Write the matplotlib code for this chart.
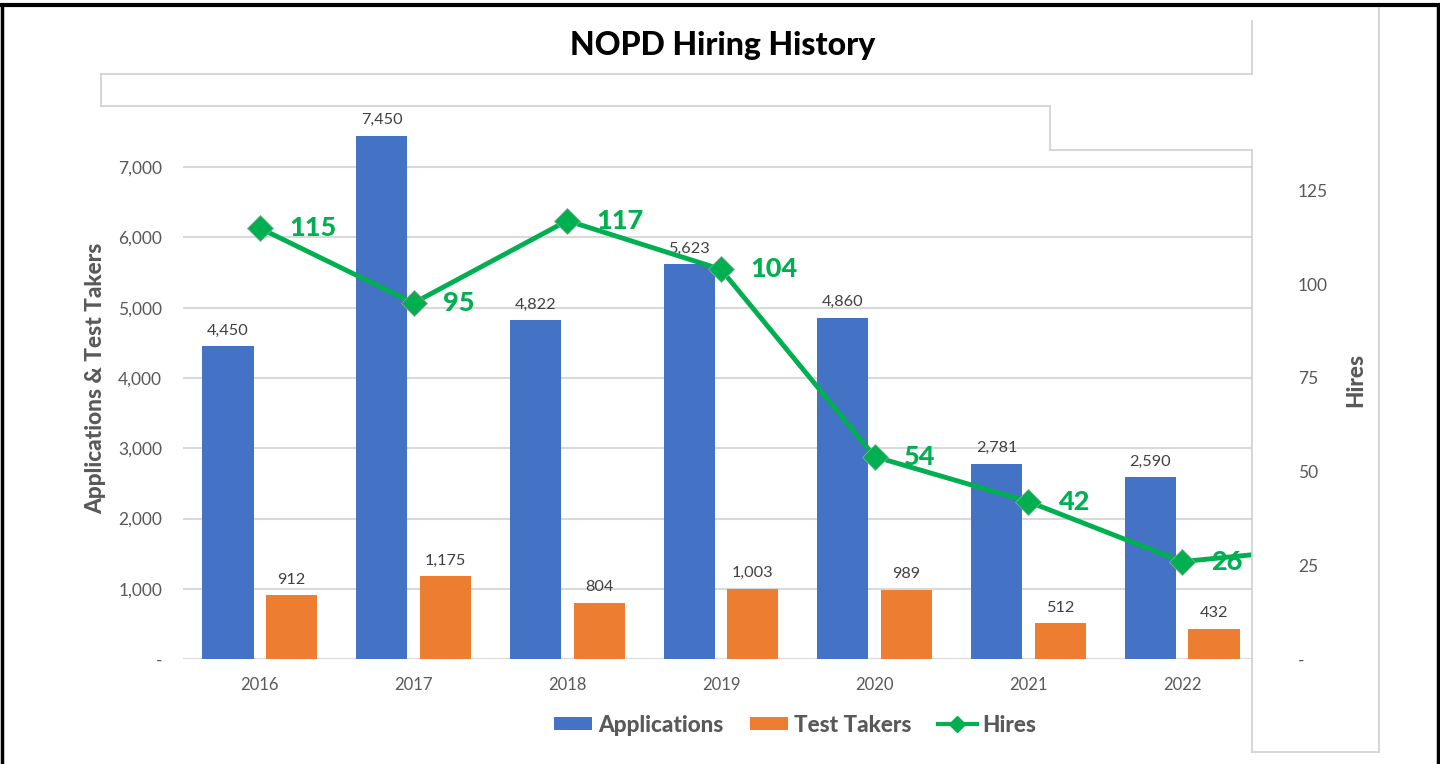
import numpy as np
import matplotlib
matplotlib.use("Agg")
import matplotlib.pyplot as plt
from matplotlib.patches import Patch, Polygon, Rectangle
from matplotlib.lines import Line2D

plt.rcParams['font.family'] = ['Lato', 'DejaVu Sans']

# data
years = ['2016', '2017', '2018', '2019', '2020', '2021', '2022']
applications = [4450, 7450, 4822, 5623, 4860, 2781, 2590]
test_takers = [912, 1175, 804, 1003, 989, 512, 432]
hires = [115, 95, 117, 104, 54, 42, 26]
hires_next = 30  # next point, hidden behind the panel on the right

BLUE = '#4472C4'
ORANGE = '#ED7D31'
GREEN = '#00B050'
GREY = '#595959'
BOLD = 'black'

W, H = 1440, 764
fig = plt.figure(figsize=(W / 100, H / 100), dpi=100)


def fx(x):
    return x / W


def fy(y):
    return 1 - y / H


# plot area in pixels: x 183..1259, y 97..659
ax = fig.add_axes([fx(183), fy(659), (1259 - 183) / W, (659 - 97) / H])
x = np.arange(len(years))
bw = 0.333
off = 0.207
b1 = ax.bar(x - off, applications, bw, color=BLUE, zorder=2)
b2 = ax.bar(x + off, test_takers, bw, color=ORANGE, zorder=2)
for bars, vals in [(b1, applications), (b2, test_takers)]:
    for r, v in zip(bars, vals):
        ax.annotate(f'{v:,}', (r.get_x() + r.get_width() / 2, v),
                    xytext=(0, 6), textcoords='offset points',
                    ha='center', va='bottom', fontsize=11.7, color='#404040')

ax.set_xlim(-0.5, 6.5)
ax.set_ylim(0, 8000)
ax.set_yticks(range(0, 8001, 1000))
ax.set_yticklabels(['-'] + [f'{v:,}' for v in range(1000, 8001, 1000)])
ax.set_xticks(x)
ax.set_xticklabels(years)
ax.tick_params(axis='both', length=0, labelcolor=GREY)
ax.tick_params(axis='y', pad=15, labelsize=12.5)
ax.tick_params(axis='x', pad=13, labelsize=12)
ax.grid(axis='y', color='#d9d9d9', linewidth=1.5, zorder=0)
ax.set_axisbelow(True)
for s in ax.spines.values():
    s.set_visible(False)

# hires on the secondary axis
ax2 = ax.twinx()
ax2.plot(np.arange(len(hires) + 1), hires + [hires_next], color=GREEN,
         linewidth=3.5, marker='D', markersize=13, markeredgecolor='#9e9e9e',
         markeredgewidth=0.6, markevery=list(range(len(hires))), zorder=3)
for i, v in enumerate(hires):
    ax2.annotate(str(v), (i, v), xytext=(21, 0), textcoords='offset points',
                 ha='left', va='center', fontsize=19.5, fontweight=BOLD,
                 color=GREEN, zorder=3)
ax2.set_ylim(0, 150)
ax2.set_yticks(range(0, 126, 25))
ax2.set_yticklabels(['-'] + [str(v) for v in range(25, 126, 25)])
ax2.tick_params(axis='y', length=0, labelsize=12.5, labelcolor=GREY, pad=28)
for s in ax2.spines.values():
    s.set_visible(False)

# white overlays from the screenshot
box = Polygon([(fx(101), fy(74)), (fx(1252), fy(74)), (fx(1252), fy(150)),
               (fx(1050), fy(150)), (fx(1050), fy(106)), (fx(101), fy(106))],
              closed=True, facecolor='white', edgecolor='none',
              transform=fig.transFigure, clip_on=False, zorder=5)
ax2.add_artist(box)
panel = Rectangle((fx(1252), fy(752)), (1379 - 1252) / W, (752 - 8) / H,
                  facecolor='white', edgecolor='none',
                  transform=fig.transFigure, clip_on=False, zorder=5)
ax2.add_artist(panel)
outlines = [
    ([101, 1252], [74, 74]), ([101, 101], [74, 106]), ([101, 1050], [106, 106]),
    ([1050, 1050], [106, 150]), ([1050, 1252], [150, 150]),
    ([1252, 1252], [21, 74]), ([1252, 1252], [150, 752]),
    ([1252, 1379], [752, 752]), ([1379, 1379], [8, 752]),
]
for xs, ys in outlines:
    ax2.add_artist(Line2D([fx(v) for v in xs], [fy(v) for v in ys],
                          color='#d0d0d0', linewidth=1.2,
                          transform=fig.transFigure, clip_on=False, zorder=6))
ax2.yaxis.set_zorder(10)

# frame of the screenshot
for xs, ys, lw in [([0, 1440], [5, 5], 3), ([1.5, 1.5], [5, 764], 2.5),
                   ([1438, 1438], [5, 764], 2.5)]:
    fig.add_artist(Line2D([fx(v) for v in xs], [fy(v) for v in ys],
                          color='black', linewidth=lw, zorder=20))

fig.text(fx(723), fy(46), 'NOPD Hiring History', ha='center', va='center',
         fontsize=23, fontweight=BOLD, color='black')
fig.text(fx(96), fy(378), 'Applications & Test Takers', rotation=90,
         ha='center', va='center', fontsize=16.3, fontweight=BOLD, color=GREY)
fig.text(fx(1356), fy(380), 'Hires', rotation=90, ha='center', va='center',
         fontsize=16.3, fontweight=BOLD, color=GREY, zorder=12)

handles = [Patch(facecolor=BLUE), Patch(facecolor=ORANGE),
           Line2D([], [], color=GREEN, linewidth=3, marker='D', markersize=8)]
fig.legend(handles, ['Applications', 'Test Takers', 'Hires'], loc='center',
           bbox_to_anchor=(fx(795), fy(725)), ncol=3, frameon=False,
           prop={'size': 16.2, 'weight': BOLD}, labelcolor=GREY,
           handlelength=1.7, handleheight=0.55, handletextpad=0.25,
           columnspacing=1.2)

fig.savefig('out.png', dpi=100, facecolor='white')
